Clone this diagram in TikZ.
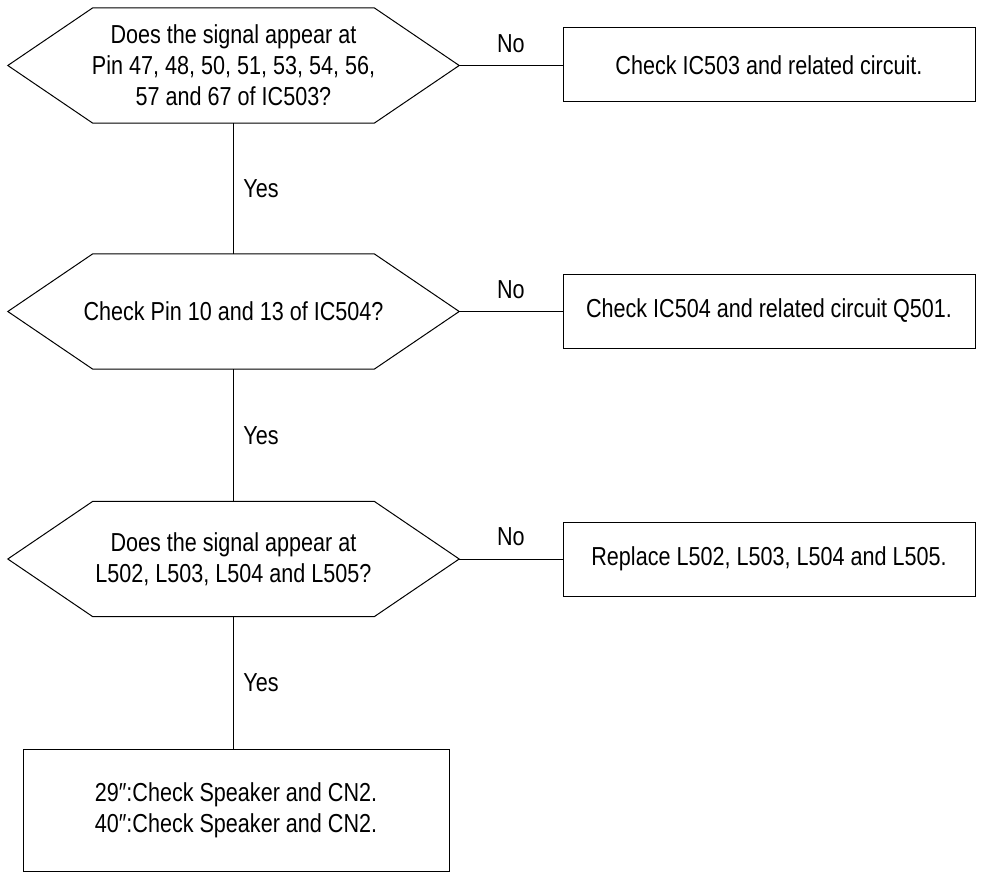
\documentclass[tikz,border=0pt]{standalone}
\usepackage{fontspec}
\setmainfont[FakeStretch=0.83]{Liberation Sans}
\usetikzlibrary{positioning}

\begin{document}
\begin{tikzpicture}[
    x=1pt, y=-1pt,
    every node/.style={font=\fontsize{26}{31}\selectfont},
    decision/.style={rectangle, minimum width=451pt, minimum height=115pt, align=center, inner sep=0pt},
    outcome/.style={draw, line width=1pt, rectangle, minimum width=412pt, minimum height=74pt, align=center},
    link/.style={line width=1pt}
]
    \useasboundingbox (0,0) rectangle (983,872);

    % Decision nodes
    \node[decision] (d1) at (233.5,65.5) {Does the signal appear at\\Pin 47, 48, 50, 51, 53, 54, 56,\\57 and 67 of IC503?};
    \node[decision] (d2) at (233.5,311.5) {Check Pin 10 and 13 of IC504?};
    \node[decision] (d3) at (233.5,559) {Does the signal appear at\\L502, L503, L504 and L505?};
    \foreach \n in {d1,d2,d3}
        \draw[link] (\n.west) -- ([xshift=85pt]\n.north west) -- ([xshift=-85pt]\n.north east)
            -- (\n.east) -- ([xshift=-85pt]\n.south east) -- ([xshift=85pt]\n.south west) -- cycle;

    % Outcomes
    \node[outcome] (c1) at (769,65) {Check IC503 and related circuit.};
    \node[outcome] (c2) at (769,311) {Check IC504 and related circuit Q501.};
    \node[outcome] (c3) at (769,559) {Replace L502, L503, L504 and L505.};
    \node[outcome, minimum width=426pt, minimum height=122pt] (spk) at (236,810) {29″:Check Speaker and CN2.\\40″:Check Speaker and CN2.};

    % Lines
    \draw[link] (d1.east) -- node[above=9pt] {No} (d1.east -| c1.west);
    \draw[link] (d2.east) -- node[above=9pt] {No} (d2.east -| c2.west);
    \draw[link] (d3.east) -- node[above=9pt] {No} (d3.east -| c3.west);
    \draw[link] (d1.south) -- node[right=6pt] {Yes} (d2.north);
    \draw[link] (d2.south) -- node[right=6pt] {Yes} (d3.north);
    \draw[link] (d3.south) -- node[right=6pt] {Yes} (d3.south |- spk.north);
\end{tikzpicture}
\end{document}
